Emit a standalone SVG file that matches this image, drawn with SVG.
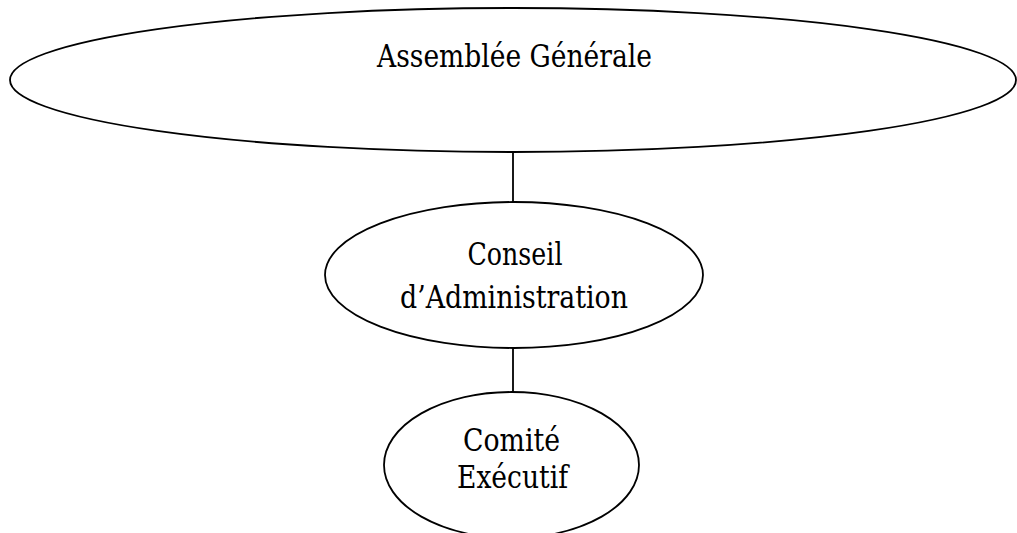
<svg xmlns="http://www.w3.org/2000/svg" width="1017" height="533" viewBox="0 0 1017 533">
<style>
.shape{fill:#fff;stroke:#000;stroke-width:1.8}
.lbl{font-family:"DejaVu Serif","Liberation Serif",serif;font-size:31px;fill:#000;text-anchor:middle}
.conn{stroke:#000;stroke-width:1.8;fill:none}
</style>
<rect width="1017" height="533" fill="#fff"/>
<g id="connectors">
<line class="conn" x1="513" y1="152" x2="513" y2="202"/>
<line class="conn" x1="513" y1="348" x2="513" y2="392"/>
</g>
<g id="assemblee">
<ellipse class="shape" cx="513" cy="80" rx="503" ry="72"/>
<text class="lbl" x="514.5" y="67" textLength="275" lengthAdjust="spacingAndGlyphs">Assemblée Générale</text>
</g>
<g id="conseil">
<ellipse class="shape" cx="514" cy="275" rx="189" ry="73"/>
<text class="lbl" x="515" y="265" textLength="95" lengthAdjust="spacingAndGlyphs">Conseil</text>
<text class="lbl" x="514" y="308" textLength="228" lengthAdjust="spacingAndGlyphs">d’Administration</text>
</g>
<g id="comite">
<ellipse class="shape" cx="511.5" cy="465" rx="127.5" ry="73"/>
<text class="lbl" x="511.5" y="451" textLength="97" lengthAdjust="spacingAndGlyphs">Comité</text>
<text class="lbl" x="512.5" y="488" textLength="111" lengthAdjust="spacingAndGlyphs">Exécutif</text>
</g>
</svg>
